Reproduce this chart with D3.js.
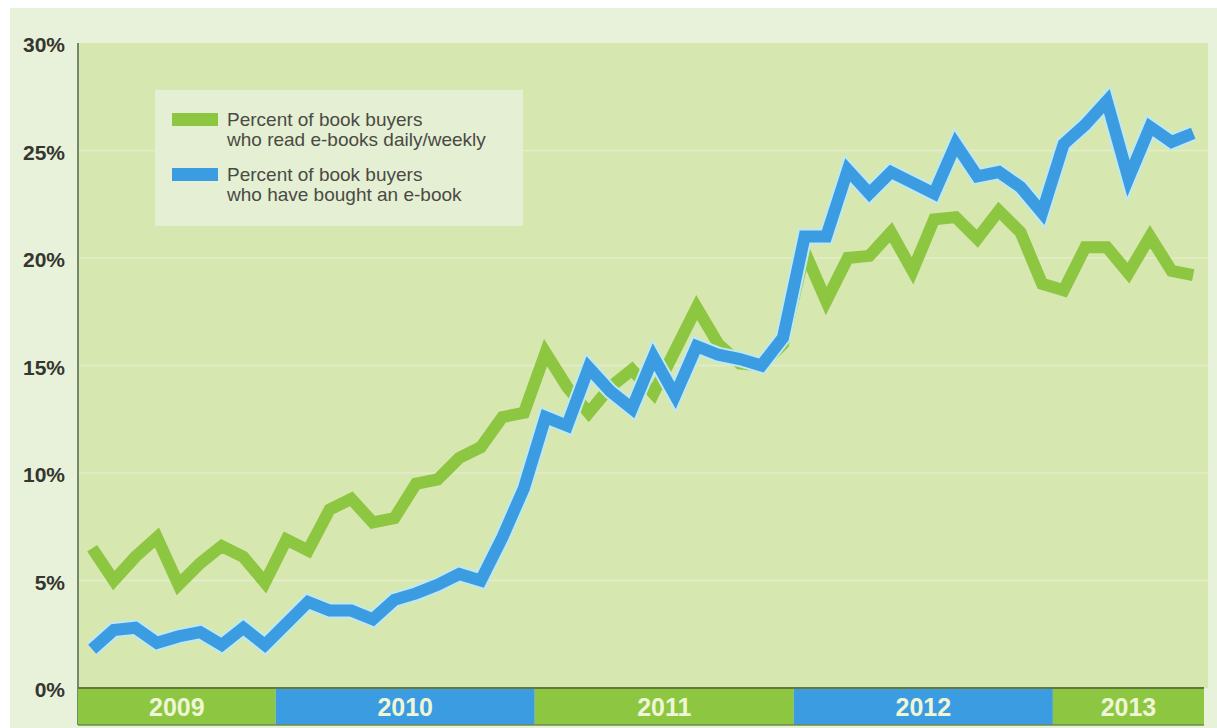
<!DOCTYPE html>
<html>
<head>
<meta charset="utf-8">
<script src="https://cdn.jsdelivr.net/npm/d3@7"></script>
<style>
    html, body { margin: 0; padding: 0; background: #ffffff; }
    svg { display: block; font-family: "Liberation Sans", Arial, sans-serif; }
</style>
</head>
<body>
<svg id="chart" width="1217" height="728"></svg>
<script>
// monthly readings, April 2009 .. July 2013
const startMonth = new Date(2009, 3, 1);
const endMonth = new Date(2013, 7, 1);

const readDaily = [
    6.5, 5.0, 6.1, 7.0, 4.8, 5.8, 6.6, 6.1, 4.9,
    6.9, 6.4, 8.3, 8.8, 7.7, 7.9, 9.5, 9.7, 10.7, 11.2, 12.6, 12.8,
    15.6, 14.0, 12.8, 14.0, 14.8, 13.7, 15.7, 17.7, 16.0, 15.1, 15.0, 16.0,
    20.3, 18.0, 20.0, 20.1, 21.2, 19.4, 21.8, 21.9, 20.9, 22.2, 21.2, 18.8,
    18.5, 20.5, 20.5, 19.3, 21.0, 19.4, 19.2
];

const boughtEbook = [
    1.8, 2.7, 2.8, 2.1, 2.4, 2.6, 2.0, 2.8, 2.0,
    3.0, 4.0, 3.6, 3.6, 3.2, 4.1, 4.4, 4.8, 5.3, 5.0, 7.0, 9.3,
    12.6, 12.2, 14.9, 13.8, 13.0, 15.4, 13.6, 15.9, 15.5, 15.3, 15.0, 16.3,
    21.0, 21.0, 24.1, 23.0, 24.0, 23.5, 23.0, 25.3, 23.8, 24.0, 23.3, 22.1,
    25.3, 26.2, 27.3, 23.7, 26.1, 25.4, 25.8
];

const yTicks = [0, 5, 10, 15, 20, 25, 30];
const years = [2009, 2010, 2011, 2012, 2013];
const legendLabels = [
    ["Percent of book buyers", "who read e-books daily/weekly"],
    ["Percent of book buyers", "who have bought an e-book"]
];

const green = '#8dc641';
const blue = '#3b9ce2';

const svg = d3.select('#chart');
const plotLeft = 78, plotTop = 43, plotRight = 1208, plotBottom = 688, bandH = 37;

const months = d3.timeMonth.range(startMonth, endMonth);

const x = d3.scaleBand()
    .domain(months.map(d => +d))
    .range([81.4, 1204])
    .padding(0);

const y = d3.scaleLinear()
    .domain([0, 30])
    .range([plotBottom, plotTop]);

// outer panel
svg.append('rect')
    .attr('x', 10).attr('y', 8)
    .attr('width', 1207).attr('height', 720)
    .attr('fill', '#e8f1d9');

// plot area
svg.append('rect')
    .attr('x', plotLeft).attr('y', plotTop)
    .attr('width', plotRight - plotLeft).attr('height', plotBottom - plotTop)
    .attr('fill', '#d7e7b0');

// grid
svg.append('g')
    .selectAll('line')
    .data(yTicks.filter(d => d > 0 && d < 30))
    .enter()
    .append('line')
    .attr('x1', plotLeft).attr('x2', plotRight)
    .attr('y1', d => y(d)).attr('y2', d => y(d))
    .attr('stroke', '#e2eec9')
    .attr('stroke-width', 1.5);

// y axis
const yAxis = d3.axisLeft(y)
    .tickValues(yTicks)
    .tickSize(0)
    .tickPadding(13)
    .tickFormat(d => d + '%');

const yg = svg.append('g')
    .attr('transform', `translate(${plotLeft},0)`)
    .call(yAxis);

yg.select('.domain').remove();
yg.selectAll('text')
    .attr('font-size', '21px')
    .attr('font-weight', 'bold')
    .attr('fill', '#35362f')
    .attr('font-family', '"Liberation Sans", Arial, sans-serif')
    .attr('dy', '0.42em');

svg.append('line')
    .attr('x1', plotLeft).attr('x2', plotLeft)
    .attr('y1', plotTop).attr('y2', plotBottom + bandH)
    .attr('stroke', '#77876a')
    .attr('stroke-width', 2);

// year band
const yearExtent = yr => {
    const ms = months.filter(m => m.getFullYear() === yr);
    const x0 = yr === years[0] ? plotLeft : x(+ms[0]);
    const x1 = x(+ms[ms.length - 1]) + x.bandwidth();
    return [x0, x1];
};

const band = svg.append('g');

band.selectAll('rect')
    .data(years)
    .enter()
    .append('rect')
    .attr('x', d => yearExtent(d)[0])
    .attr('y', plotBottom)
    .attr('width', d => yearExtent(d)[1] - yearExtent(d)[0])
    .attr('height', bandH)
    .attr('fill', (d, i) => i % 2 ? blue : green);

band.selectAll('text')
    .data(years)
    .enter()
    .append('text')
    .attr('x', d => (yearExtent(d)[0] + yearExtent(d)[1]) / 2)
    .attr('y', plotBottom + bandH / 2 + 9)
    .attr('text-anchor', 'middle')
    .attr('font-size', '25px')
    .attr('font-weight', 'bold')
    .attr('fill', '#eef6d6')
    .text(d => d);

band.append('line')
    .attr('x1', plotLeft).attr('x2', yearExtent(2013)[1])
    .attr('y1', plotBottom).attr('y2', plotBottom)
    .attr('stroke', '#5f7a3a').attr('stroke-width', 2);

band.append('line')
    .attr('x1', plotLeft).attr('x2', yearExtent(2013)[1])
    .attr('y1', plotBottom + bandH).attr('y2', plotBottom + bandH)
    .attr('stroke', '#6f8a4a').attr('stroke-width', 1.5);

// legend
const legend = svg.append('g').attr('transform', 'translate(155,90)');

legend.append('rect')
    .attr('width', 368).attr('height', 136)
    .attr('fill', '#e5efd3');

legendLabels.forEach((lines, i) => {
    const gy = 23 + i * 55;
    legend.append('rect')
        .attr('x', 17).attr('y', gy)
        .attr('width', 46).attr('height', 13)
        .attr('fill', i ? blue : green);
    lines.forEach((t, j) => {
        legend.append('text')
            .attr('x', 72)
            .attr('y', gy + 13 + j * 20)
            .attr('font-size', '19px')
            .attr('fill', '#4a4a44')
            .text(t);
    });
});

// lines
const line = d3.line()
    .x((d, i) => x(+months[i]) + x.bandwidth() / 2)
    .y(d => y(d));

svg.append('path')
    .datum(readDaily)
    .attr('d', line)
    .attr('fill', 'none')
    .attr('stroke', green)
    .attr('stroke-width', 12);

svg.append('path')
    .datum(boughtEbook)
    .attr('d', line)
    .attr('fill', 'none')
    .attr('stroke', '#bfe9ee')
    .attr('stroke-width', 16);

svg.append('path')
    .datum(boughtEbook)
    .attr('d', line)
    .attr('fill', 'none')
    .attr('stroke', blue)
    .attr('stroke-width', 12);
</script>
</body>
</html>
